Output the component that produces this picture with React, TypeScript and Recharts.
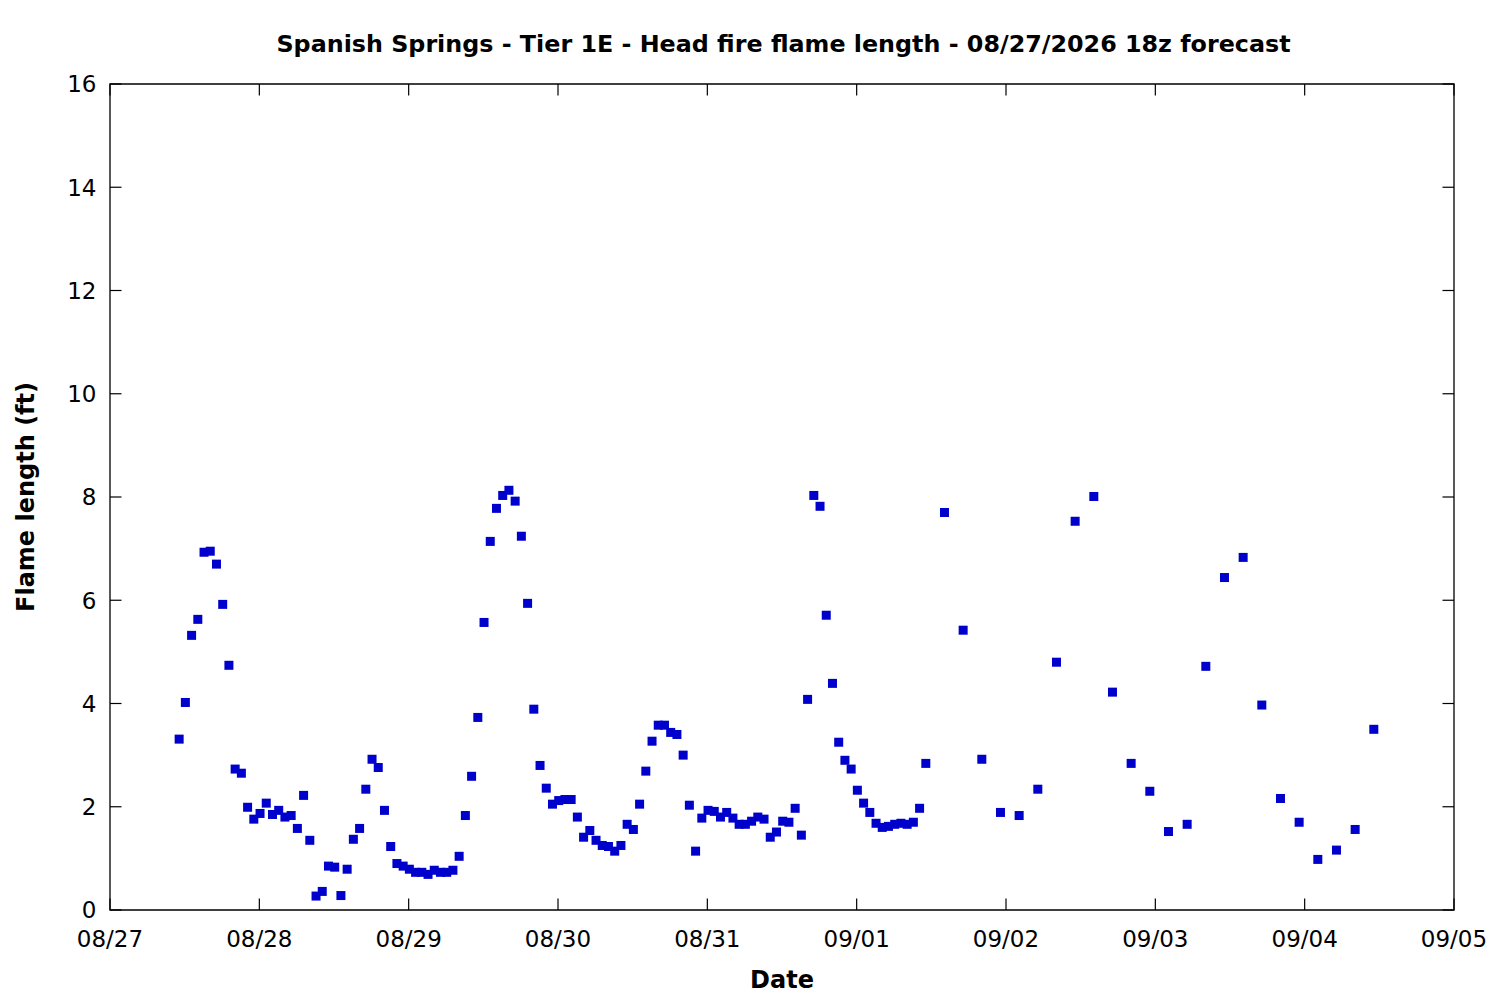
import { ScatterChart, Scatter, XAxis, YAxis, ReferenceArea } from 'recharts';

// hours since 08/27 00z
const hours = [
  11, 12, 13, 14, 15, 16, 17, 18, 19, 20, 21, 22, 23, 24, 25, 26, 27, 28, 29, 30,
  31, 32, 33, 34, 35, 36, 37, 38, 39, 40, 41, 42, 43, 44, 45, 46, 47, 48, 49, 50,
  51, 52, 53, 54, 55, 56, 57, 58, 59, 60, 61, 62, 63, 64, 65, 66, 67, 68, 69, 70,
  71, 72, 73, 74, 75, 76, 77, 78, 79, 80, 81, 82, 83, 84, 85, 86, 87, 88, 89, 90,
  91, 92, 93, 94, 95, 96, 97, 98, 99, 100, 101, 102, 103, 104, 105, 106, 107, 108, 109, 110,
  111, 112, 113, 114, 115, 116, 117, 118, 119, 120, 121, 122, 123, 124, 125, 126, 127, 128, 129, 130,
  131, 134, 137, 140, 143, 146, 149, 152, 155, 158, 161, 164, 167, 170, 173, 176, 179, 182, 185, 188,
  191, 194, 197, 200, 203,
];

// head fire flame length (ft)
const flameLength = [
  3.31, 4.02, 5.32, 5.63, 6.93, 6.95, 6.70, 5.92, 4.74, 2.73, 2.65, 1.99, 1.76, 1.87, 2.07, 1.85, 1.93, 1.80, 1.83, 1.58,
  2.22, 1.35, 0.27, 0.36, 0.85, 0.83, 0.28, 0.79, 1.37, 1.58, 2.34, 2.92, 2.76, 1.93, 1.23, 0.90, 0.85, 0.79, 0.73, 0.73,
  0.69, 0.77, 0.73, 0.73, 0.77, 1.04, 1.83, 2.59, 3.73, 5.57, 7.14, 7.78, 8.03, 8.13, 7.92, 7.24, 5.94, 3.89, 2.80, 2.36,
  2.05, 2.12, 2.14, 2.14, 1.80, 1.41, 1.54, 1.35, 1.25, 1.23, 1.14, 1.25, 1.66, 1.56, 2.05, 2.69, 3.27, 3.58, 3.58, 3.44,
  3.40, 3.00, 2.03, 1.14, 1.78, 1.93, 1.91, 1.80, 1.89, 1.78, 1.66, 1.66, 1.72, 1.80, 1.76, 1.41, 1.51, 1.72, 1.70, 1.97,
  1.45, 4.08, 8.03, 7.82, 5.71, 4.39, 3.25, 2.90, 2.73, 2.32, 2.07, 1.89, 1.68, 1.60, 1.62, 1.66, 1.68, 1.66, 1.70, 1.97,
  2.84, 7.70, 5.42, 2.92, 1.89, 1.83, 2.34, 4.80, 7.53, 8.01, 4.22, 2.84, 2.30, 1.52, 1.66, 4.72, 6.44, 6.83, 3.97, 2.16,
  1.70, 0.98, 1.16, 1.56, 3.50,
];

const xTicks = [0, 24, 48, 72, 96, 120, 144, 168, 192, 216];
const xTickLabels = ['08/27', '08/28', '08/29', '08/30', '08/31', '09/01', '09/02', '09/03', '09/04', '09/05'];
const yTicks = [0, 2, 4, 6, 8, 10, 12, 14, 16];

const W = 1500;
const H = 1000;
const PLOT_LEFT = 110;
const PLOT_RIGHT = 1454;
const PLOT_TOP = 84;
const PLOT_BOTTOM = 910;
const TICK_LEN = 11.5;
const FONT = '"DejaVu Sans", sans-serif';
const TICK_FONT = 23;

const data = hours.map((h, i) => ({ hour: h, flame: flameLength[i] }));

const XTick = (props: any) => {
  const { x, y, payload } = props;
  const idx = xTicks.indexOf(payload.value);
  return (
    <g>
      <line x1={x} y1={y} x2={x} y2={y - TICK_LEN} stroke="#000" strokeWidth={1.2} />
      <line x1={x} y1={PLOT_TOP} x2={x} y2={PLOT_TOP + TICK_LEN} stroke="#000" strokeWidth={1.2} />
      <text x={x} y={y + 37} textAnchor="middle" fontFamily={FONT} fontSize={TICK_FONT} fill="#000">
        {idx >= 0 ? xTickLabels[idx] : payload.value}
      </text>
    </g>
  );
};

const YTick = (props: any) => {
  const { x, y, payload } = props;
  return (
    <g>
      <line x1={x} y1={y} x2={x + TICK_LEN} y2={y} stroke="#000" strokeWidth={1.2} />
      <line x1={PLOT_RIGHT} y1={y} x2={PLOT_RIGHT - TICK_LEN} y2={y} stroke="#000" strokeWidth={1.2} />
      <text x={x - 13.5} y={y + 8.3} textAnchor="end" fontFamily={FONT} fontSize={TICK_FONT} fill="#000">
        {payload.value}
      </text>
    </g>
  );
};

// gnuplot-style filled square marker
const Square = (props: any) => {
  const { cx, cy } = props;
  return <rect x={cx - 3.8} y={cy - 4.5} width={9} height={9} fill="#0000CC" />;
};

export default function App() {
  return (
    <div style={{ position: 'absolute', left: 0, top: 0, width: W, height: H, background: '#fff' }}>
      <ScatterChart
        width={W}
        height={H}
        margin={{ top: PLOT_TOP, right: W - PLOT_RIGHT, left: 0, bottom: 0 }}
      >
        <XAxis
          type="number"
          dataKey="hour"
          domain={[0, 216]}
          ticks={xTicks}
          height={H - PLOT_BOTTOM}
          axisLine={false}
          tickLine={false}
          tickSize={0}
          tickMargin={0}
          tick={XTick}
          interval={0}
          allowDataOverflow
        />
        <YAxis
          type="number"
          dataKey="flame"
          domain={[0, 16]}
          ticks={yTicks}
          width={PLOT_LEFT}
          axisLine={false}
          tickLine={false}
          tickSize={0}
          tickMargin={0}
          tick={YTick}
          interval={0}
          allowDataOverflow
        />
        <ReferenceArea x1={0} x2={216} y1={0} y2={16} fill="none" stroke="#000" strokeWidth={1.3} />
        <Scatter data={data} shape={Square} isAnimationActive={false} />
      </ScatterChart>
      <svg
        width={W}
        height={H}
        style={{ position: 'absolute', left: 0, top: 0, pointerEvents: 'none' }}
      >
        <text
          x={(PLOT_LEFT + PLOT_RIGHT) / 2 + 1.5}
          y={52}
          textAnchor="middle"
          fontFamily={FONT}
          fontWeight="bold"
          fontSize={23.8}
          fill="#000"
        >
          Spanish Springs - Tier 1E - Head fire flame length - 08/27/2026 18z forecast
        </text>
        <text
          x={(PLOT_LEFT + PLOT_RIGHT) / 2}
          y={988}
          textAnchor="middle"
          fontFamily={FONT}
          fontWeight="bold"
          fontSize={24}
          fill="#000"
        >
          Date
        </text>
        <text
          x={34.3}
          y={(PLOT_TOP + PLOT_BOTTOM) / 2}
          textAnchor="middle"
          fontFamily={FONT}
          fontWeight="bold"
          fontSize={24}
          fill="#000"
          transform={`rotate(-90 34.3 ${(PLOT_TOP + PLOT_BOTTOM) / 2})`}
        >
          Flame length (ft)
        </text>
      </svg>
    </div>
  );
}
